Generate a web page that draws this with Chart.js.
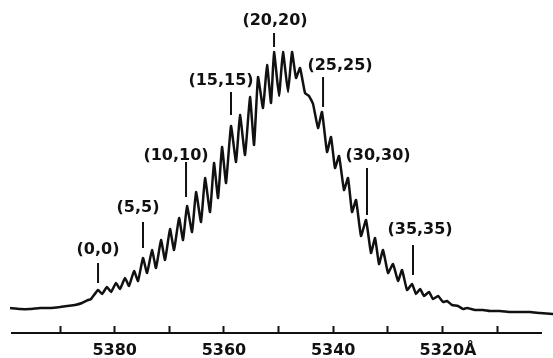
<!DOCTYPE html>
<html>
<head>
<meta charset="utf-8">
<script src="https://cdn.jsdelivr.net/npm/chart.js@4.4.0/dist/chart.umd.min.js"></script>
<style>
html,body{margin:0;padding:0;background:#fff;}
canvas{display:block;}
</style>
</head>
<body>
<canvas id="c" width="553" height="358"></canvas>
<script>
// Wavelength (Å) of each traced point of the spectrum
const wavelengths = [
 5399.15,5397.32,5395.49,5393.66,5391.83,5390.00,5388.72,5387.25,5385.97,5384.87,5384.32,
 5383.04,5382.31,5381.40,5380.66,5379.75,5379.02,5378.10,5377.37,5376.45,5375.72,
 5374.81,5374.07,5373.16,5372.43,5371.51,5370.78,5369.86,5369.13,5368.21,5367.48,
 5366.75,5365.83,5365.10,5364.19,5363.45,5362.54,5361.81,5361.07,5360.34,5359.61,
 5358.70,5357.78,5357.05,5356.13,5355.22,5354.48,5353.75,5352.84,5352.10,5351.37,
 5350.82,5349.91,5349.18,5348.26,5347.53,5346.80,5346.06,5345.15,5344.42,5343.68,5342.77,
 5342.04,5341.12,5340.39,5339.66,5338.92,5338.01,5337.28,5336.54,5335.81,5334.90,
 5333.98,5333.07,5332.33,5331.60,5330.87,5329.95,5329.04,5328.12,5327.39,5326.47,
 5325.56,5324.83,5324.09,5323.36,5322.45,5321.72,5320.80,5319.88,5319.15,5318.24,
 5317.14,5316.22,5315.49,5314.03,5312.56,5311.28,5309.45,5307.62,5305.79,5303.96,5302.13,5299.75
];
// Relative intensity at each traced point
const intensities = [
 25,24,24,25,25,26,27,28,30,33,34,
 43,39,46,41,50,44,55,47,62,52,
 75,60,83,65,93,73,104,83,115,93,
 127,101,141,111,155,121,170,135,186,150,
 207,171,218,178,236,188,256,225,268,230,
 281,237,281,241,281,255,265,240,237,229,205,
 221,181,196,165,177,143,155,121,133,97,
 113,80,95,69,83,60,69,52,63,43,
 49,39,44,37,41,34,37,31,32,28,
 27,24,25,23,23,22,22,21,21,21,20,19
];

// Band (v',v'') annotations
const bandLabels   = ['(0,0)','(5,5)','(10,10)','(15,15)','(20,20)','(25,25)','(30,30)','(35,35)'];
const bandLambda   = [5383.04,5374.81,5366.93,5358.70,5350.82,5341.85,5333.80,5325.38];
const labelLambda  = [5383.04,5375.72,5368.76,5360.53,5350.64,5338.74,5331.78,5324.09];
const labelLevel   = [83,125,177,252,312,267,177,103];
const markTop      = [70,111,171,241,300,256,165,88];
const markBottom   = [50,85,136,218,286,226,118,58];

// Axis ticks
const tickValues = [5390,5380,5370,5360,5350,5340,5330,5320,5310];
const tickLabels = {5380:'5380',5360:'5360',5340:'5340',5320:'  5320Å'};

const points = wavelengths.map((w,i)=>({x:w,y:intensities[i]}));

const bandPlugin = {
  id:'bands',
  afterDatasetsDraw(chart){
    const ctx = chart.ctx, xs = chart.scales.x, ys = chart.scales.y;
    ctx.save();
    ctx.strokeStyle = '#111';
    ctx.fillStyle = '#111';
    ctx.lineWidth = 2;
    ctx.font = 'bold 16px "DejaVu Sans"';
    ctx.textAlign = 'center';
    ctx.textBaseline = 'middle';
    bandLabels.forEach((lab,i)=>{
      const x = xs.getPixelForValue(bandLambda[i]);
      ctx.beginPath();
      ctx.moveTo(x, ys.getPixelForValue(markTop[i]));
      ctx.lineTo(x, ys.getPixelForValue(markBottom[i]));
      ctx.stroke();
      ctx.fillText(lab, xs.getPixelForValue(labelLambda[i]), ys.getPixelForValue(labelLevel[i]));
    });
    ctx.restore();
  }
};

new Chart(document.getElementById('c'), {
  type:'line',
  data:{datasets:[{
    data:points,
    borderColor:'#111',
    borderWidth:2.5,
    pointRadius:0,
    tension:0.12,
    fill:false,
    clip:false
  }]},
  options:{
    responsive:false,
    animation:false,
    events:[],
    layout:{padding:{left:12,right:12,top:33,bottom:0}},
    plugins:{legend:{display:false},tooltip:{enabled:false}},
    scales:{
      x:{
        type:'linear',
        reverse:true,
        min:5301.95,
        max:5398.79,
        afterBuildTicks:s=>{s.ticks = tickValues.map(v=>({value:v}));},
        afterFit:s=>{s.height = 25;},
        border:{display:true,color:'#111',width:2},
        grid:{drawOnChartArea:false,drawTicks:true,tickLength:-7,tickWidth:2,tickColor:'#111'},
        ticks:{
          autoSkip:false,
          maxRotation:0,
          padding:15,
          color:'#111',
          font:{family:'DejaVu Sans',weight:'bold',size:16},
          callback:v=>tickLabels[v] || ''
        }
      },
      y:{display:false,min:0,max:300}
    }
  },
  plugins:[bandPlugin]
});
</script>
</body>
</html>
